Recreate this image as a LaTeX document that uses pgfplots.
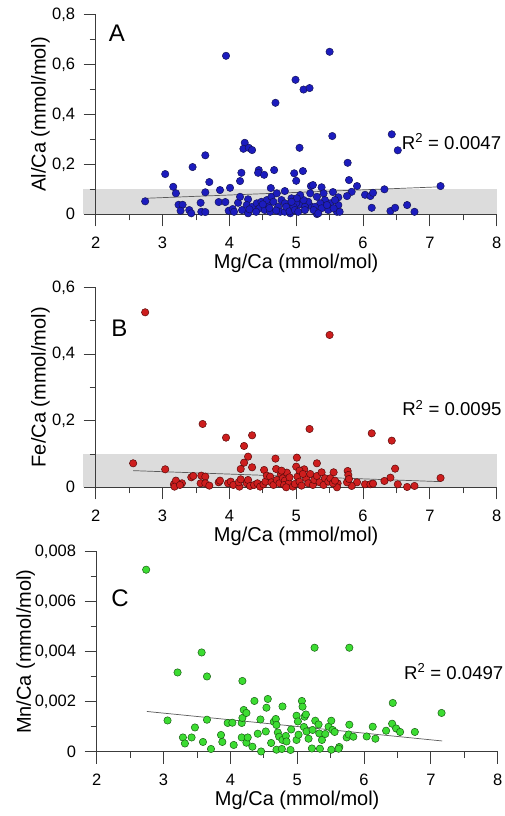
\documentclass[border=0pt]{standalone}
\usepackage{fontspec}
\setmainfont{Liberation Sans}
\usepackage{pgfplots}
\pgfplotsset{compat=1.18}

\definecolor{ablue}{RGB}{28,28,190}
\definecolor{ablueedge}{RGB}{20,20,90}
\definecolor{bred}{RGB}{205,30,30}
\definecolor{brededge}{RGB}{90,10,10}
\definecolor{cgreen}{RGB}{60,220,50}
\definecolor{cgreenedge}{RGB}{25,95,20}
\definecolor{bandgray}{RGB}{220,220,220}
\definecolor{axgray}{RGB}{60,60,60}
\definecolor{fitgray}{RGB}{90,90,90}

\pgfplotsset{
  panel/.style={
    scale only axis, width=401pt, height=200pt,
    axis lines=left, axis line style={-, axgray, line width=0.9pt},
    xmin=2, xmax=8, xtick={2,3,4,5,6,7,8}, minor x tick num=1,
    minor y tick num=1, ymin=0,
    tick align=outside, major tick length=12pt, minor tick length=6pt,
    tick style={axgray, line width=0.9pt},
    tick label style={font=\fontsize{16.5}{19}\selectfont, inner sep=0pt},
    xticklabel style={yshift=-10.4pt},
    yticklabel style={xshift=-8.4pt},
    /pgf/number format/assume math mode=true,
    scaled y ticks=false,
    label style={font=\fontsize{20}{24}\selectfont},
    xlabel={Mg/Ca (mmol/mol)},
    xlabel style={at={(axis description cs:0.5,-0.27)}, anchor=base},
    ylabel style={at={(axis description cs:-0.125,0.5)}, anchor=base},
    clip=false, set layers,
  },
  dots/.style 2 args={only marks, mark=*, mark size=3.7pt,
    mark options={fill=#1, draw=#2, line width=0.5pt}},
  fit/.style={no marks, line width=0.7pt, fitgray},
  band/.style={draw=none, fill=bandgray, no marks, on layer=axis background, forget plot},
  prec/.style={yticklabel style={/pgf/number format/fixed,
    /pgf/number format/precision=#1, /pgf/number format/use comma}},
}
\tikzset{
  letter/.style={font=\fontsize{24}{28}\selectfont, anchor=center},
  rsq/.style={font=\fontsize{18.6}{22}\selectfont, anchor=base west, inner sep=0pt},
}

\begin{document}
\begin{tikzpicture}

% ---------------- A: Al/Ca
\begin{axis}[panel, at={(95.7pt,-214.3pt)}, anchor=south west,
  ymax=0.8, ytick={0,0.2,0.4,0.6,0.8}, prec=1,
  ylabel={Al/Ca (mmol/mol)}]
\addplot[band] coordinates {(1.805,0) (8,0) (8,0.1) (1.805,0.1)};
\addplot[fit] coordinates {(2.74,0.064) (7.16,0.110)};
\addplot[dots={ablue}{ablueedge}] table {
x y
2.74 0.052
3.04 0.161
3.45 0.189
3.16 0.110
3.20 0.084
3.70 0.129
3.64 0.236
3.64 0.088
3.86 0.097
4.01 0.106
3.95 0.634
4.18 0.166
4.16 0.133
4.44 0.177
4.43 0.166
4.52 0.158
4.67 0.177
4.97 0.164
4.62 0.105
4.83 0.093
4.23 0.286
4.21 0.262
4.29 0.266
4.34 0.257
4.69 0.446
4.99 0.538
5.11 0.499
5.20 0.505
5.50 0.650
5.54 0.313
6.43 0.320
6.52 0.256
5.05 0.266
3.24 0.038
3.30 0.038
3.27 0.014
3.40 0.017
3.43 0.004
3.57 0.046
3.58 0.010
3.64 0.009
3.84 0.049
3.94 0.049
3.99 0.014
4.05 0.021
4.07 0.010
4.13 0.046
4.16 0.070
4.19 0.017
4.28 0.004
4.28 0.060
4.26 0.037
4.34 0.030
4.41 0.044
4.45 0.024
4.48 0.050
4.53 0.017
4.58 0.037
4.56 0.057
4.63 0.070
4.71 0.084
4.61 0.010
4.66 0.050
4.73 0.030
4.78 0.057
4.83 0.044
4.88 0.024
4.93 0.064
4.76 0.010
4.83 0.010
4.91 0.004
4.40 0.010
4.50 0.040
4.70 0.015
4.85 0.030
5.05 0.040
5.20 0.035
4.30 0.020
4.60 0.025
5.00 0.045
4.90 0.012
5.10 0.173
5.00 0.134
5.77 0.206
5.79 0.137
5.91 0.113
7.16 0.113
6.32 0.100
5.55 0.089
5.22 0.113
5.25 0.117
5.38 0.108
5.83 0.090
5.76 0.073
6.03 0.078
6.11 0.073
6.15 0.086
6.13 0.026
6.41 0.013
6.48 0.026
6.66 0.037
6.77 0.010
5.63 0.068
5.63 0.037
5.61 0.010
5.65 0.010
5.51 0.044
5.48 0.017
5.41 0.084
5.43 0.057
5.36 0.044
5.31 0.070
5.28 0.030
5.31 0.001
5.21 0.084
5.18 0.050
5.13 0.030
5.11 0.057
5.06 0.077
5.01 0.064
4.96 0.030
4.98 0.017
4.93 0.050
5.03 0.010
5.13 0.017
5.26 0.017
5.38 0.024
5.33 0.004
5.46 0.037
5.56 0.024
5.58 0.057
};
\node[letter] at (axis description cs:0.053,0.905) {A};
\node[rsq] at (axis description cs:0.763,0.326) {R\textsuperscript{2} = 0.0047};
\end{axis}

% ---------------- B: Fe/Ca
\begin{axis}[panel, at={(95.7pt,-487.3pt)}, anchor=south west,
  ymax=0.6, ytick={0,0.2,0.4,0.6}, prec=1,
  ylabel={Fe/Ca (mmol/mol)}]
\addplot[band] coordinates {(1.805,0) (8,0) (8,0.1) (1.805,0.1)};
\addplot[fit] coordinates {(2.56,0.050) (7.16,0.017)};
\addplot[dots={bred}{brededge}] table {
x y
2.74 0.525
5.50 0.457
3.60 0.190
3.95 0.149
4.34 0.156
4.22 0.124
5.20 0.175
6.13 0.162
6.43 0.140
2.56 0.072
3.04 0.054
4.28 0.092
4.22 0.074
4.17 0.055
4.34 0.060
4.69 0.086
5.01 0.089
5.31 0.072
5.00 0.062
4.52 0.052
6.48 0.056
5.56 0.045
5.77 0.049
5.78 0.037
6.41 0.029
7.16 0.028
6.32 0.019
6.52 0.009
6.66 0.001
6.77 0.004
6.03 0.009
6.11 0.009
6.15 0.011
5.91 0.015
5.83 0.004
5.62 0.012
5.61 0.000
3.43 0.030
3.46 0.034
3.17 0.009
3.20 0.020
3.18 0.002
3.29 0.012
3.26 0.007
3.57 0.012
3.58 0.035
3.64 0.032
3.64 0.012
3.70 0.005
3.84 0.015
3.86 0.020
3.98 0.012
4.02 0.017
4.06 0.007
4.15 0.002
4.14 0.015
4.17 0.024
4.26 0.012
4.28 0.022
4.31 0.004
4.37 0.007
4.42 0.012
4.46 0.002
4.51 0.009
4.54 0.017
4.56 0.035
4.61 0.032
4.63 0.015
4.66 0.007
4.71 0.022
4.75 0.012
4.77 0.040
4.80 0.027
4.83 0.020
4.82 0.007
4.86 0.044
4.89 0.012
4.95 0.002
4.98 0.010
5.02 0.032
5.05 0.017
5.08 0.005
5.12 0.054
5.15 0.027
5.18 0.012
5.21 0.040
5.25 0.007
5.27 0.022
5.31 0.034
5.35 0.015
5.38 0.045
5.41 0.007
5.43 0.027
5.48 0.017
5.51 0.027
5.55 0.012
5.58 0.020
5.76 0.015
5.79 0.025
4.70 0.055
4.78 0.050
4.90 0.030
5.05 0.050
4.85 0.000
5.10 0.040
};
\node[letter] at (axis description cs:0.059,0.794) {B};
\node[rsq] at (axis description cs:0.764,0.357) {R\textsuperscript{2} = 0.0095};
\end{axis}

% ---------------- C: Mn/Ca
\begin{axis}[panel, at={(96.7pt,-751.7pt)}, anchor=south west,
  ymax=0.008, ytick={0,0.002,0.004,0.006,0.008}, prec=3,
  ylabel={Mn/Ca (mmol/mol)},
  ylabel style={at={(axis description cs:-0.164,0.5)}}]
\addplot[fit] coordinates {(2.75,0.00161) (7.17,0.00043)};
\addplot[dots={cgreen}{cgreenedge}] table {
x y
2.74 0.00728
3.57 0.00397
3.21 0.00317
3.65 0.00301
4.18 0.00283
5.26 0.00416
5.78 0.00416
7.16 0.00155
6.43 0.00195
3.06 0.00125
3.29 0.00057
3.32 0.00033
3.42 0.00057
3.47 0.00097
3.59 0.00039
3.65 0.00128
3.71 0.00011
3.86 0.00067
3.88 0.00039
3.96 0.00115
4.03 0.00116
4.05 0.00027
4.17 0.00115
4.18 0.00135
4.20 0.00167
4.24 0.00155
4.17 0.00057
4.24 0.00036
4.26 0.00057
4.33 0.00020
4.36 0.00203
4.45 0.00129
4.41 0.00072
4.46 0.00001
4.53 0.00081
4.56 0.00211
4.54 0.00176
4.61 0.00035
4.65 0.00120
4.68 0.00131
4.69 0.00107
4.69 0.00008
4.71 0.00077
4.73 0.00060
4.78 0.00181
4.77 0.00011
4.78 0.00047
4.83 0.00063
4.84 0.00041
4.90 0.00007
4.91 0.00089
4.99 0.00144
5.01 0.00121
4.99 0.00047
5.02 0.00068
5.07 0.00203
5.08 0.00180
5.11 0.00140
5.13 0.00149
5.10 0.00099
5.14 0.00081
5.17 0.00052
5.22 0.00013
5.23 0.00087
5.27 0.00124
5.32 0.00109
5.33 0.00073
5.37 0.00047
5.34 0.00012
5.42 0.00071
5.47 0.00100
5.51 0.00124
5.53 0.00087
5.56 0.00079
5.51 0.00008
5.63 0.00019
5.62 0.00012
5.74 0.00057
5.77 0.00069
5.78 0.00108
5.84 0.00060
6.04 0.00061
6.13 0.00100
6.17 0.00052
6.33 0.00084
6.42 0.00112
6.48 0.00093
6.54 0.00079
6.76 0.00079
};
\node[letter] at (axis description cs:0.058,0.768) {C};
\node[rsq] at (axis description cs:0.766,0.3635) {R\textsuperscript{2} = 0.0497};
\end{axis}

\pgfresetboundingbox
\useasboundingbox (0,0) rectangle (504pt,-816pt);
\end{tikzpicture}
\end{document}
